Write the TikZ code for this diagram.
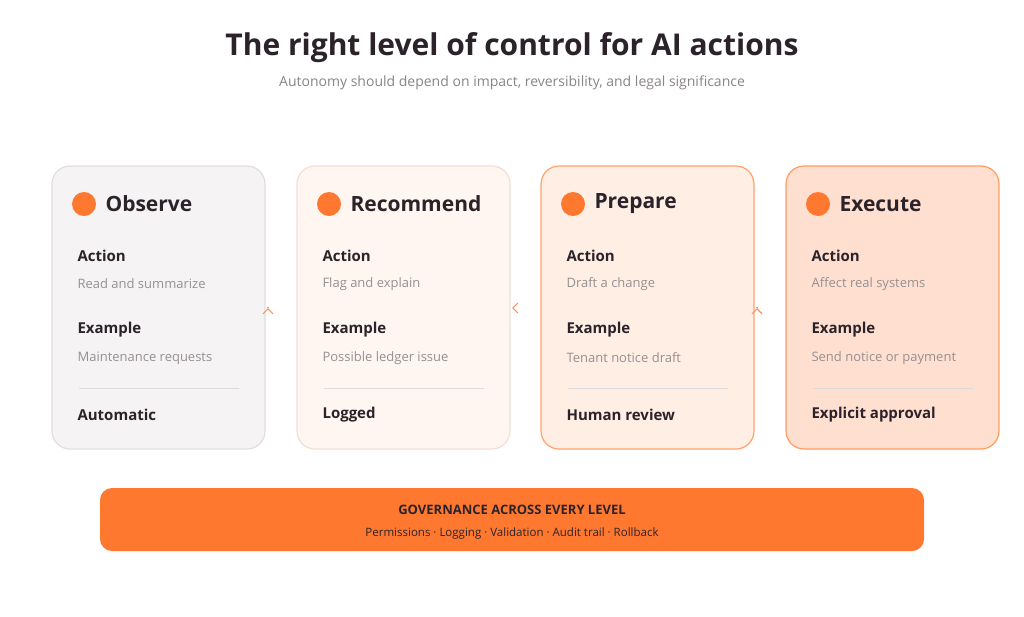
\documentclass[tikz,border=0pt]{standalone}
\usepackage{fontspec}
\setmainfont{Open Sans}
\begin{document}
\begin{tikzpicture}[x=1pt,y=-1pt,
 card/.style={draw=#1,line width=1.2pt,rounded corners=18pt},
 ttl/.style={anchor=west,font=\fontsize{21}{24}\selectfont\bfseries,text=dark},
 lab/.style={anchor=west,font=\fontsize{15}{18}\selectfont\bfseries,text=dark},
 det/.style={anchor=west,font=\fontsize{13}{16}\selectfont,text=gray!90},
 arr/.style={->,draw=org!80,line width=1.1pt,>={Straight Barb[length=5pt,width=10pt]}}]
\usetikzlibrary{arrows.meta}
\definecolor{dark}{HTML}{2B2329}
\definecolor{org}{HTML}{FF7830}
\definecolor{gray}{HTML}{8A8486}
\useasboundingbox (0,0) rectangle (1024,616);
\fill[white] (0,0) rectangle (1024,616);
\node[font=\fontsize{30}{34}\selectfont\bfseries,text=dark] (title) at (512,48) {The right level of control for AI actions};
\node[font=\fontsize{14}{17}\selectfont,text=gray] (sub) at (512,83) {Autonomy should depend on impact, reversibility, and legal significance};
\foreach \i/\x/\fc/\bc/\t/\a/\e/\b in {
 1/52/F5F3F4/E2DEDF/Observe/Read and summarize/Maintenance requests/Automatic,
 2/297/FFF5F1/F1DFD7/Recommend/Flag and explain/Possible ledger issue/Logged,
 3/541/FFEEE4/FFA26E/Prepare/Draft a change/Tenant notice draft/Human review,
 4/786/FFE0D0/FF9C62/Execute/Affect real systems/Send notice or payment/Explicit approval}{
 \definecolor{fc}{HTML}{\fc}\definecolor{bc}{HTML}{\bc}
 \path[card=bc,fill=fc] (\x,166) rectangle ++(213,283);
 \node[fill=org,circle,minimum size=24pt,inner sep=0] (dot\i) at (\x+32,204) {};
 \node[ttl] (t\i) at (\x+50,204) {\t};
 \node[lab] (la\i) at (\x+22,256) {Action};
 \node[det] (da\i) at (\x+22,284) {\a};
 \node[lab] (le\i) at (\x+22,330) {Example};
 \node[det] (de\i) at (\x+22,358) {\e};
 \draw[gray!30,line width=0.8pt] (\x+27,388) -- (\x+187,388);
 \node[lab] (lb\i) at (\x+22,415) {\b};
 \coordinate (L\i) at (\x-29,308);
 \coordinate (R\i) at (\x+216,308);
}
\draw[arr] (R1) -- (L2);
\draw[arr] (R2) -- (L3);
\draw[arr] (R3) -- (L4);
\fill[org,rounded corners=12pt] (100,488) rectangle (924,551);
\node[font=\fontsize{13}{16}\selectfont\bfseries,text=dark] (gov) at (512,510) {GOVERNANCE ACROSS EVERY LEVEL};
\node[font=\fontsize{11.5}{14}\selectfont,text=dark] (govs) at (512,534) {Permissions · Logging · Validation · Audit trail · Rollback};
\end{tikzpicture}
\end{document}
